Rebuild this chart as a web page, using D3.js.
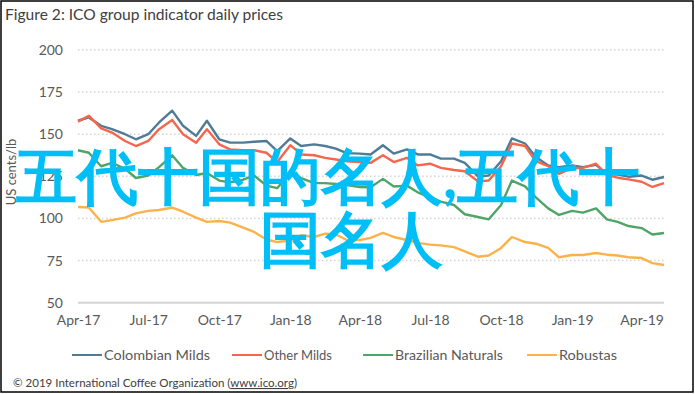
<!DOCTYPE html>
<html>
<head>
<meta charset=utf-8 />
<title>ICO group indicator daily prices</title>
<style type="text/css">
 body { margin:0; background:#fff; }
 text { font-family: Lato, "Open Sans", sans-serif; }
</style>
<script src="https://d3js.org/d3.v7.min.js"></script>
</head>
<body>
<div id="chart-container"></div>
<script>

// readings taken off the chart, about twice a month
var dates = ["2017-04-01","2017-04-15","2017-05-01","2017-05-15","2017-06-01","2017-06-15","2017-07-01","2017-07-15",
  "2017-08-01","2017-08-15","2017-09-01","2017-09-15","2017-10-01","2017-10-15","2017-11-01","2017-11-15",
  "2017-12-01","2017-12-15","2018-01-01","2018-01-15","2018-02-01","2018-02-15","2018-03-01","2018-03-15",
  "2018-04-01","2018-04-15","2018-05-01","2018-05-15","2018-06-01","2018-06-15","2018-07-01","2018-07-15",
  "2018-08-01","2018-08-15","2018-09-01","2018-09-15","2018-10-01","2018-10-15","2018-11-01","2018-11-15",
  "2018-12-01","2018-12-15","2019-01-01","2019-01-15","2019-02-01","2019-02-15","2019-03-01","2019-03-15",
  "2019-04-01","2019-04-15","2019-04-30"];

var colombian = [158,160,155,153,150,147,150,157,164,155,149,158,147,145,145,145.5,146,140,147.5,143,144,143,141.5,138.8,
  138.5,138,143.5,138.5,141,138,138,135.5,135.5,133,125,125.5,134,147.5,144.5,136.5,131.5,130.5,131.5,130.5,131.8,
  126.5,126,124.8,125.5,123,124.6];

var otherMilds = [157.5,161,153.5,151,146,143,146,153,158.5,150,145,153,144,141,140.5,140.5,139,133.5,143.5,138,137.5,136,
  135,134,133.5,133,137.5,133.5,136,131.5,132.5,130,128.8,128,122,122.5,131,144.5,143,134,131,126.5,130,130,132.5,
  125.8,124.2,123.2,121.8,118.7,121];

var brazilian = [140.5,139,131,133,129.5,124,125.5,130.5,137.5,130,125.8,127,122.5,121.5,123,125.5,119.5,118,127.5,124,121,
  121,120.5,119.8,118.7,118.5,123.5,119,119.5,115.5,112.5,110,108,102.5,100.9,99.5,108,122.5,119,112.5,106,102.1,104.5,
  103.5,106,99.5,98,95.5,94.3,90.5,91.4];

var robustas = [106.8,106.5,98,99,100.5,103,104.5,105,106.5,104,100.5,98,98.5,97.5,94.5,92,87.5,86,87,90,89,91,90.5,87.2,
  87.2,88.5,91.4,89,87.2,85.5,84.5,84,83,80.5,77.3,78,82.5,89,86,85,82.5,77,78.3,78.3,79.5,78.5,78,77,76.5,73.5,72.4];

var seriesNames = ["Colombian Milds","Other Milds","Brazilian Naturals","Robustas"];
var seriesColors = ["#4f7b96","#f4664d","#4fa468","#fcb24a"];

var yTicks = [50,75,100,125,150,175,200];
var xTicks = ["2017-04-01","2017-07-01","2017-10-01","2018-01-01","2018-04-01","2018-07-01","2018-10-01","2019-01-01","2019-04-01"];

var width = 695, height = 394;
var parse = d3.timeParse("%Y-%m-%d");

var svg = d3.select("#chart-container")
  .append("svg")
    .attr("width", width)
    .attr("height", height);

// frame
svg.append("rect")
  .attr("x", 1).attr("y", 1)
  .attr("width", 692).attr("height", 391)
  .attr("fill", "#fff")
  .attr("stroke", "#000")
  .attr("stroke-width", 1.5);

svg.append("text")
  .attr("x", 5)
  .attr("y", 20)
  .attr("font-size", 15)
  .attr("fill", "#404040")
  .attr("textLength", 278)
  .attr("lengthAdjust", "spacingAndGlyphs")
  .text("Figure 2: ICO group indicator daily prices");

var x = d3.scaleTime()
  .domain([parse("2017-04-01"), parse("2019-04-30")])
  .range([78, 664]);

var y = d3.scaleLinear()
  .domain([50, 200])
  .range([302.7, 50]);

// gridlines, the bottom one is solid
svg.selectAll(".grid")
  .data(yTicks)
  .enter()
  .append("line")
  .attr("class", "grid")
  .attr("x1", 78)
  .attr("x2", 664)
  .attr("y1", d => y(d))
  .attr("y2", d => y(d))
  .attr("stroke", "#d4d4d4")
  .attr("stroke-width", d => d == 50 ? 2 : 1.5)
  .attr("stroke-dasharray", d => d == 50 ? null : "1.5,2.5");

// y axis
var yAxis = svg.append("g")
  .attr("transform", "translate(78,0)")
  .call(d3.axisLeft(y).tickValues(yTicks).tickSize(0).tickPadding(15));
yAxis.select(".domain").remove();
yAxis.selectAll("text")
  .attr("font-family", "Lato, sans-serif")
  .attr("font-size", 14)
  .attr("fill", "#595959");

// x axis
var xAxis = svg.append("g")
  .attr("transform", "translate(0," + y(50) + ")")
  .call(d3.axisBottom(x).tickValues(xTicks.map(parse)).tickFormat(d3.timeFormat("%b-%y")).tickSize(0).tickPadding(12));
xAxis.select(".domain").remove();
xAxis.selectAll("text")
  .attr("font-family", "Lato, sans-serif")
  .attr("font-size", 14)
  .attr("fill", "#595959");

svg.append("text")
  .attr("transform", "translate(16,172) rotate(-90)")
  .attr("text-anchor", "middle")
  .attr("font-size", 13)
  .attr("fill", "#595959")
  .text("US cents/lb");

// lines, red over blue like the original
var allSeries = [colombian, otherMilds, brazilian, robustas];
var line = d3.line()
  .x((d, i) => x(parse(dates[i])))
  .y(d => y(d));

svg.selectAll(".series")
  .data(allSeries)
  .enter()
  .append("path")
  .attr("class", "series")
  .attr("d", d => line(d))
  .attr("fill", "none")
  .attr("stroke", (d, i) => seriesColors[i])
  .attr("stroke-width", 2.4)
  .attr("stroke-linejoin", "round");

// legend
var legendX = [72, 232, 363, 527];
var legendW = [106, 68, 108, 58];
var legend = svg.selectAll(".legend")
  .data(seriesNames)
  .enter()
  .append("g")
  .attr("class", "legend")
  .attr("transform", (d, i) => "translate(" + legendX[i] + ",355)");
legend.append("line")
  .attr("x1", 0).attr("x2", 30)
  .attr("stroke", (d, i) => seriesColors[i])
  .attr("stroke-width", 2);
legend.append("text")
  .attr("x", 32)
  .attr("dy", "0.35em")
  .attr("font-size", 13)
  .attr("fill", "#595959")
  .attr("textLength", (d, i) => legendW[i])
  .attr("lengthAdjust", "spacingAndGlyphs")
  .text(d => d);

var credit = svg.append("text")
  .attr("x", 13)
  .attr("y", 387)
  .attr("font-size", 11)
  .attr("fill", "#404040")
  .attr("textLength", 284)
  .attr("lengthAdjust", "spacingAndGlyphs");
credit.append("tspan").text("\u00a9 2019 International Coffee Organization (");
credit.append("tspan").attr("text-decoration", "underline").text("www.ico.org");
credit.append("tspan").text(")");

// the overlay caption sitting on top of the picture
var overlay = ["五代十国的名人,五代十", "国名人"];
var overlayX = [16, 260];
var overlayY = [198, 261];
svg.selectAll(".overlay")
  .data(overlay)
  .enter()
  .append("text")
  .attr("class", "overlay")
  .attr("x", (d, i) => overlayX[i])
  .attr("y", (d, i) => overlayY[i])
  .attr("font-family", "'Noto Sans CJK SC', sans-serif")
  .attr("font-size", 61)
  .attr("font-weight", "bold")
  .attr("fill", "#00bff7")
  .text(d => d);

</script>
</body>
</html>
